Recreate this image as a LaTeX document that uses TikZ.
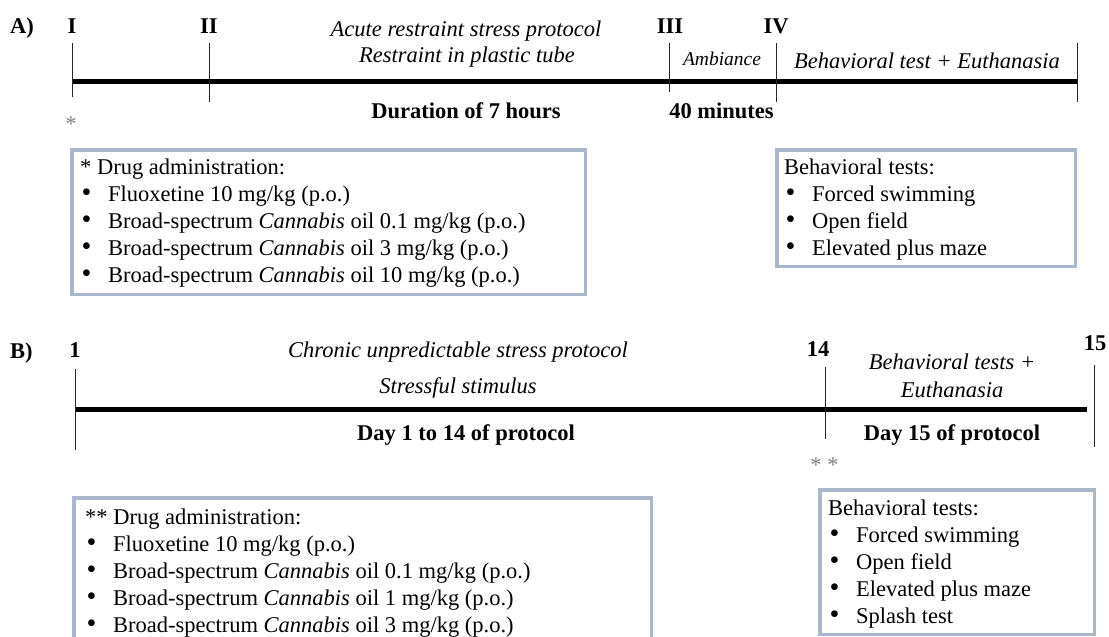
\documentclass[tikz,border=0pt]{standalone}
\usepackage{fontspec}
\setmainfont{Liberation Serif}
\usetikzlibrary{positioning}
\definecolor{boxgray}{RGB}{170,182,204}
\newcommand{\bulitem}[1]{\makebox[28pt][l]{\hspace{1.5pt}\scalebox{1.25}{\textbullet}}#1}
\tikzset{
    timeline/.style={line width=5pt},
    tick/.style={line width=1pt, black!85},
    infobox/.style={draw=boxgray, line width=3.5pt, rectangle, outer sep=0pt, inner sep=0pt, anchor=north west},
    boxtext/.style={inner sep=0pt, align=left, anchor=north west, font=\fontsize{22.5}{27}\selectfont},
}

\begin{document}
\begin{tikzpicture}[x=1pt,y=-1pt,
    panel/.style={inner sep=0pt,anchor=base west,font=\bfseries\fontsize{22.5}{27}\selectfont},
    point/.style={inner sep=0pt,anchor=base,font=\bfseries\fontsize{22.5}{27}\selectfont},
    phase/.style={inner sep=0pt,anchor=base,font=\itshape\fontsize{22.5}{27}\selectfont},
    period/.style={inner sep=0pt,anchor=base,font=\bfseries\fontsize{22.5}{27}\selectfont},
    note/.style={inner sep=0pt,anchor=base,text=gray,font=\fontsize{22.5}{27}\selectfont}]
    \useasboundingbox (0,0) rectangle (1109,637);

    % A) acute restraint stress
    \node[panel] (tagA) at (10,34) {A)};
    \node[point] (ptI) at (72,33) {I};
    \node[point] (ptII) at (209,33) {II};
    \node[point] (ptIII) at (670,33) {III};
    \node[point] (ptIV) at (776,33) {IV};

    \coordinate (lineAstart) at (72,81);
    \coordinate (lineAend) at (1077,81);
    \draw[timeline] (lineAstart) -- (lineAend);

    \coordinate (tickIa) at (72,43);
    \coordinate (tickIb) at (72,97);
    \coordinate (tickIIa) at (209,43);
    \coordinate (tickIIb) at (209,102);
    \coordinate (tickIIIa) at (669,43);
    \coordinate (tickIIIb) at (669,92);
    \coordinate (tickIVa) at (776,43);
    \coordinate (tickIVb) at (776,102);
    \coordinate (tickAenda) at (1077,43);
    \coordinate (tickAendb) at (1077,102);
    \draw[tick] (tickIa) -- (tickIb);
    \draw[tick] (tickIIa) -- (tickIIb);
    \draw[tick] (tickIIIa) -- (tickIIIb);
    \draw[tick] (tickIVa) -- (tickIVb);
    \draw[tick] (tickAenda) -- (tickAendb);

    \node[phase] (acute) at (466,36) {Acute restraint stress protocol};
    \node[phase] (restraint) at (467,62) {Restraint in plastic tube};
    \node[phase, font=\itshape\fontsize{19.5}{23}\selectfont] (ambiance) at (722,65) {Ambiance};
    \node[phase] (testA) at (927,68) {Behavioral test + Euthanasia};
    \node[period] (sevenh) at (466,118) {Duration of 7 hours};
    \node[period] (forty) at (721.5,118) {40 minutes};
    \node[note] (starA) at (71,131) {*};

    \node[infobox, minimum width=513.5pt, minimum height=144.5pt] (drugA) at (71.75,149.75) {};
    \node[boxtext, below right=5.2pt and 8.2pt of drugA.north west] (drugAlist) {\strut* Drug administration:\\
        \bulitem{Fluoxetine 10 mg/kg (p.o.)}\\
        \bulitem{Broad-spectrum \textit{Cannabis} oil 0.1 mg/kg (p.o.)}\\
        \bulitem{Broad-spectrum \textit{Cannabis} oil 3 mg/kg (p.o.)}\\
        \bulitem{Broad-spectrum \textit{Cannabis} oil 10 mg/kg (p.o.)}};

    \node[infobox, minimum width=298.5pt, minimum height=116.5pt] (testsA) at (776.75,149.75) {};
    \node[boxtext, below right=5.2pt and 7.2pt of testsA.north west] (testsAlist) {\strut Behavioral tests:\\
        \bulitem{Forced swimming}\\
        \bulitem{Open field}\\
        \bulitem{Elevated plus maze}};

    % B) chronic unpredictable stress
    \node[panel] (tagB) at (10,358) {B)};
    \node[point] (pt1) at (75,357) {1};
    \node[point] (pt14) at (818,356) {14};
    \node[point] (pt15) at (1095,350) {15};

    \coordinate (lineBstart) at (75,409.5);
    \coordinate (lineBend) at (1087,409.5);
    \draw[timeline] (lineBstart) -- (lineBend);

    \coordinate (tick1a) at (75,369);
    \coordinate (tick1b) at (75,450);
    \coordinate (tick14a) at (825,367);
    \coordinate (tick14b) at (825,439);
    \coordinate (tick15a) at (1094,365);
    \coordinate (tick15b) at (1094,447);
    \draw[tick] (tick1a) -- (tick1b);
    \draw[tick] (tick14a) -- (tick14b);
    \draw[tick] (tick15a) -- (tick15b);

    \node[phase] (chronic) at (458,357) {Chronic unpredictable stress protocol};
    \node[phase] (stimulus) at (458,393) {Stressful stimulus};
    \node[phase] (testB) at (952,369) {Behavioral tests +};
    \node[phase] (euthB) at (952,397) {Euthanasia};
    \node[period] (days) at (466,440) {Day 1 to 14 of protocol};
    \node[period] (day15) at (952,440) {Day 15 of protocol};
    \node[note] (starB) at (824.5,472) {* *};

    \node[infobox, minimum width=577.5pt, minimum height=200pt] (drugB) at (73.75,497.75) {};
    \node[boxtext, below right=7.2pt and 11.2pt of drugB.north west] (drugBlist) {\strut** Drug administration:\\
        \bulitem{Fluoxetine 10 mg/kg (p.o.)}\\
        \bulitem{Broad-spectrum \textit{Cannabis} oil 0.1 mg/kg (p.o.)}\\
        \bulitem{Broad-spectrum \textit{Cannabis} oil 1 mg/kg (p.o.)}\\
        \bulitem{Broad-spectrum \textit{Cannabis} oil 3 mg/kg (p.o.)}};

    \node[infobox, minimum width=274.5pt, minimum height=144.5pt] (testsB) at (819.75,489.75) {};
    \node[boxtext, below right=6.2pt and 8.2pt of testsB.north west] (testsBlist) {\strut Behavioral tests:\\
        \bulitem{Forced swimming}\\
        \bulitem{Open field}\\
        \bulitem{Elevated plus maze}\\
        \bulitem{Splash test}};
\end{tikzpicture}
\end{document}
